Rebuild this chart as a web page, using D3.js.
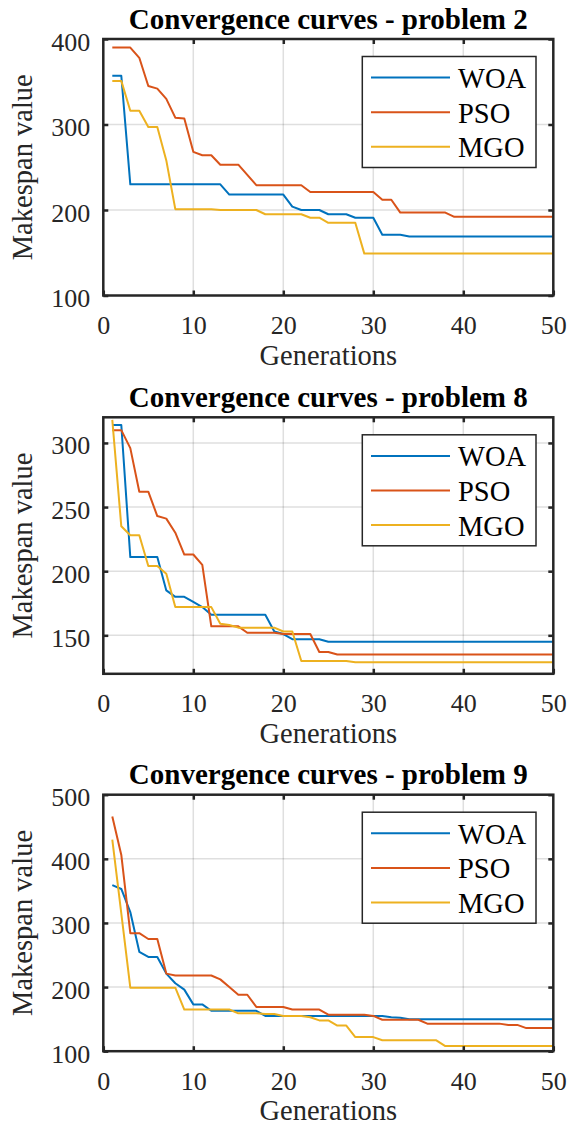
<!DOCTYPE html>
<html>
<head>
<meta charset="utf-8">
<style>
  body { margin: 0; background: #fff; }
  svg text { font-family: "Liberation Serif", "Times New Roman", serif !important; fill: #262626; }
  .grid line { stroke: #262626; stroke-opacity: 0.15; stroke-width: 1.5; }
  .curve { fill: none; stroke-width: 2; stroke-linejoin: round; }
</style>
</head>
<body>
<svg></svg>
<script src="https://d3js.org/d3.v7.min.js"></script>
<script>
// generations on the x axis
const generations = [1,2,3,4,5,6,7,8,9,10,11,12,13,14,15,16,17,18,19,20,
  21,22,23,24,25,26,27,28,29,30,31,32,33,34,35,36,37,38,39,40,
  41,42,43,44,45,46,47,48,49,50];

const algorithms = ["WOA", "PSO", "MGO"];
const colors = ["#0072BD", "#D95319", "#EDB120"];

// problem 2
const p2WOA = [357,357,230,230,230,230,230,230,230,230,230,230,230,218,218,218,218,218,218,218,
  204,200,200,200,195,195,195,191,191,191,171,171,171,169,169,169,169,169,169,169,
  169,169,169,169,169,169,169,169,169,169];
const p2PSO = [390,390,390,378,345,342,330,308,307,268,264,264,253,253,253,241,229,229,229,229,
  229,229,221,221,221,221,221,221,221,221,212,212,197,197,197,197,197,197,192,192,
  192,192,192,192,192,192,192,192,192,192];
const p2MGO = [351,351,316,316,297,297,258,201,201,201,201,201,200,200,200,200,200,195,195,195,
  195,195,191,191,185,185,185,185,149,149,149,149,149,149,149,149,149,149,149,149,
  149,149,149,149,149,149,149,149,149,149];

// problem 8
const p8WOA = [314,314,211,211,211,211,185,180,180,176,172,166,166,166,166,166,166,166,153,151,
  147,147,147,147,145,145,145,145,145,145,145,145,145,145,145,145,145,145,145,145,
  145,145,145,145,145,145,145,145,145,145];
const p8PSO = [310,310,296,262,262,243,241,230,213,213,205,157,157,157,157,152,152,152,152,151,
  151,151,151,137,137,135,135,135,135,135,135,135,135,135,135,135,135,135,135,135,
  135,135,135,135,135,135,135,135,135,135];
const p8MGO = [318,235,228,228,204,204,198,172,172,172,172,172,159,158,156,156,156,156,156,153,
  153,130,130,130,130,130,130,129,129,129,129,129,129,129,129,129,129,129,129,129,
  129,129,129,129,129,129,129,129,129,129];

// problem 9
const p9WOA = [359,353,317,255,247,247,221,206,196,173,173,163,163,163,163,163,163,155,155,155,
  155,155,155,155,155,155,155,155,155,155,155,153,152,150,150,150,150,150,150,150,
  150,150,150,150,150,150,150,150,150,150];
const p9PSO = [466,406,284,284,275,275,221,218,218,218,218,218,212,200,188,188,169,169,169,169,
  165,165,165,165,157,157,157,157,157,155,149,149,149,149,149,143,143,143,143,143,
  143,143,143,143,141,141,136,136,136,136];
const p9MGO = [430,315,199,199,199,199,199,199,165,165,165,165,165,165,159,159,159,158,158,155,
  155,155,153,148,148,140,140,122,122,122,117,117,117,117,117,117,117,108,108,108,
  108,108,108,108,108,108,108,108,108,108];

const xTicks = [0, 10, 20, 30, 40, 50];

const panels = [
  { title: "Convergence curves - problem 2", top: 39, domain: [100, 400], ticks: [100, 200, 300, 400], series: [p2WOA, p2PSO, p2MGO] },
  { title: "Convergence curves - problem 8", top: 417.3, domain: [120, 320], ticks: [150, 200, 250, 300], series: [p8WOA, p8PSO, p8MGO] },
  { title: "Convergence curves - problem 9", top: 794.7, domain: [100, 500], ticks: [100, 200, 300, 400, 500], series: [p9WOA, p9PSO, p9MGO] }
];

const width = 568, height = 1128;
const left = 103.3, right = 553.3, plotH = 256.5;
const serif = "'Liberation Serif', 'Times New Roman', serif";

const svg = d3.select("svg")
  .attr("width", width)
  .attr("height", height)
  .attr("font-family", serif);

const x = d3.scaleLinear().domain([0, 50]).range([left, right]);

panels.forEach(function(p) {
  const y = d3.scaleLinear().domain(p.domain).range([p.top + plotH, p.top]);
  const g = svg.append("g");

  // grid
  const grid = g.append("g").attr("class", "grid");
  grid.selectAll(".gx").data(xTicks.slice(1, -1)).join("line")
    .attr("x1", d => x(d)).attr("x2", d => x(d))
    .attr("y1", p.top).attr("y2", p.top + plotH);
  grid.selectAll(".gy").data(p.ticks.filter(t => t > p.domain[0] && t < p.domain[1])).join("line")
    .attr("x1", left).attr("x2", right)
    .attr("y1", d => y(d)).attr("y2", d => y(d));

  // curves
  const line = d3.line().x((d, i) => x(generations[i])).y(d => y(d));
  p.series.forEach(function(s, k) {
    g.append("path").datum(s)
      .attr("class", "curve")
      .attr("stroke", colors[k])
      .attr("d", line);
  });

  // axes with inward ticks on all four sides
  const axisOpts = function(a) {
    a.attr("font-family", null).attr("font-size", null);
    a.select(".domain").remove();
    a.selectAll(".tick line").attr("stroke", "#262626").attr("stroke-width", 2.5);
  };
  g.append("g").attr("transform", "translate(0," + (p.top + plotH) + ")")
    .call(d3.axisBottom(x).tickValues(xTicks).tickSizeInner(-5).tickSizeOuter(0).tickPadding(0))
    .call(axisOpts)
    .selectAll("text").attr("font-size", 26).attr("dy", null).attr("y", 38.5)
    .attr("font-family", serif).attr("fill", "#262626");
  g.append("g").attr("transform", "translate(0," + p.top + ")")
    .call(d3.axisTop(x).tickValues(xTicks.slice(1, -1)).tickSizeInner(-5).tickSizeOuter(0).tickFormat(""))
    .call(axisOpts);
  g.append("g").attr("transform", "translate(" + left + ",0)")
    .call(d3.axisLeft(y).tickValues(p.ticks).tickSizeInner(-5).tickSizeOuter(0).tickPadding(0))
    .call(axisOpts)
    .selectAll("text").attr("font-size", 26).attr("x", -13).attr("dy", 11)
    .attr("font-family", serif).attr("fill", "#262626");
  g.append("g").attr("transform", "translate(" + right + ",0)")
    .call(d3.axisRight(y).tickValues(p.ticks).tickSizeInner(-5).tickSizeOuter(0).tickFormat(""))
    .call(axisOpts);

  // box
  g.append("rect")
    .attr("x", left).attr("y", p.top)
    .attr("width", right - left).attr("height", plotH)
    .attr("fill", "none").attr("stroke", "#262626").attr("stroke-width", 2.5);

  // title and labels
  g.append("text")
    .attr("x", (left + right) / 2).attr("y", p.top - 10.5)
    .attr("text-anchor", "middle")
    .attr("font-size", 29).attr("font-weight", "bold")
    .style("fill", "#000")
    .text(p.title);
  g.append("text")
    .attr("x", (left + right) / 2).attr("y", p.top + plotH + 69)
    .attr("text-anchor", "middle")
    .attr("font-size", 28.5)
    .text("Generations");
  g.append("text")
    .attr("transform", "translate(32," + (p.top + plotH / 2) + ") rotate(-90)")
    .attr("text-anchor", "middle")
    .attr("font-size", 28.5)
    .text("Makespan value");

  // legend
  const lg = g.append("g");
  lg.append("rect")
    .attr("x", 362.3).attr("y", p.top + 17.5)
    .attr("width", 173.7).attr("height", 111)
    .attr("fill", "#fff").attr("stroke", "#262626").attr("stroke-width", 1.5);
  algorithms.forEach(function(name, k) {
    const ry = p.top + 38.6 + k * 34.6;
    lg.append("line")
      .attr("x1", 371).attr("x2", 450)
      .attr("y1", ry).attr("y2", ry)
      .attr("stroke", colors[k]).attr("stroke-width", 2);
    lg.append("text")
      .attr("x", 458).attr("y", ry + 10.5)
      .attr("font-size", 28.5)
      .style("fill", "#000")
      .text(name);
  });
});
</script>
</body>
</html>
